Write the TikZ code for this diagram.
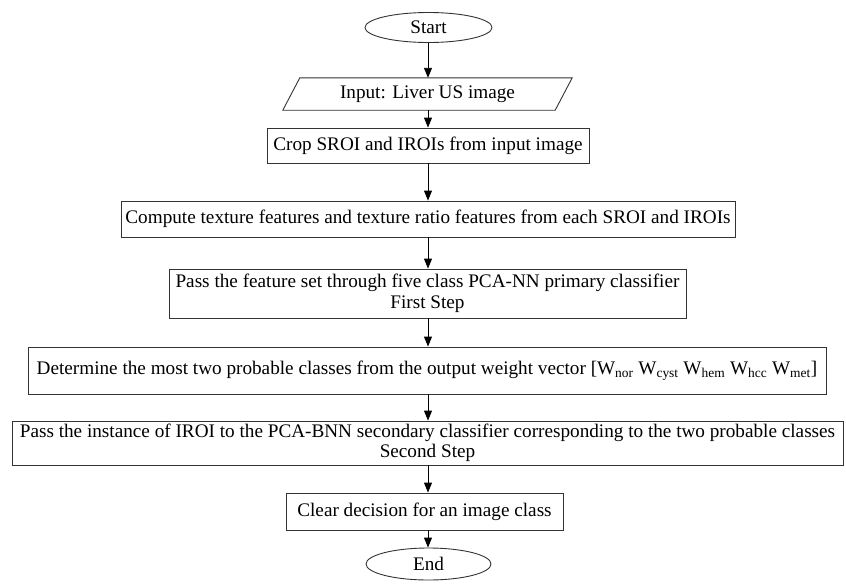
\documentclass[tikz,border=0pt]{standalone}
\usepackage{fontspec}
\setmainfont{Liberation Serif}
\usetikzlibrary{shapes.geometric,arrows.meta}
\begin{document}
\begin{tikzpicture}[x=1pt,y=-1pt,
  every node/.style={font=\fontsize{19.2}{20.5}\selectfont, inner sep=0pt, align=center},
  boxline/.style={draw=black!80, line width=0.9pt},
  procbox/.style={boxline, rectangle},
  termbox/.style={boxline, ellipse},
  flow/.style={draw=black, line width=0.9pt, -{Triangle[length=10pt,width=8pt]}}]
\useasboundingbox (0,0) rectangle (846,584);
\node[termbox, minimum width=127, minimum height=30] (start) at (428.5,27.5) {Start};
\node[minimum width=272, minimum height=32] (input) at (427.5,94) {Input: Liver US image};
\draw[boxline] ([xshift=8.5]input.north west) -- ([xshift=8.5]input.north east)
  -- ([xshift=-8.5]input.south east) -- ([xshift=-8.5]input.south west) -- cycle;
\node[procbox, minimum width=322, minimum height=35] (crop) at (428,145.5) {Crop SROI and IROIs from input image};
\node[procbox, minimum width=614, minimum height=36] (compute) at (428,219) {Compute texture features and texture ratio features from each SROI and IROIs};
\node[procbox, minimum width=517, minimum height=49] (pass1) at (427.5,293.5) {Pass the feature set through five class PCA-NN primary classifier\\First Step};
\node[procbox, minimum width=798, minimum height=47] (determine) at (427,370.5) {Determine the most two probable classes from the output weight vector [W\textsubscript{nor} W\textsubscript{cyst} W\textsubscript{hem} W\textsubscript{hcc} W\textsubscript{met}]};
\node[procbox, minimum width=831, minimum height=44] (pass2) at (427.5,443) {Pass the instance of IROI to the PCA-BNN secondary classifier corresponding to the two probable classes\\Second Step};
\node[procbox, minimum width=277, minimum height=37] (clear) at (424.5,511.5) {Clear decision for an image class};
\node[termbox, minimum width=125, minimum height=32] (end) at (428.5,564) {End};
\coordinate (ax) at (428,0);
\draw[flow] (ax |- start.south) -- (ax |- input.north);
\draw[flow] (ax |- input.south) -- (ax |- crop.north);
\draw[flow] (ax |- crop.south) -- (ax |- compute.north);
\draw[flow] (ax |- compute.south) -- (ax |- pass1.north);
\draw[flow] (ax |- pass1.south) -- (ax |- determine.north);
\draw[flow] (ax |- determine.south) -- (ax |- pass2.north);
\draw[flow] (ax |- pass2.south) -- (ax |- clear.north);
\draw[flow] (ax |- clear.south) -- (ax |- end.north);
\end{tikzpicture}
\end{document}
